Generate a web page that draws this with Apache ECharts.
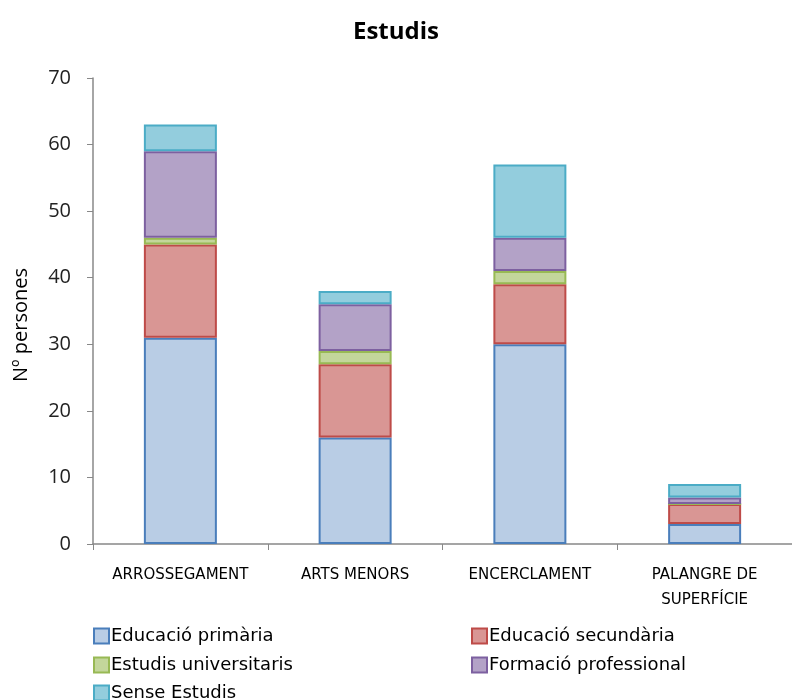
<!DOCTYPE html>
<html>
<head>
<meta charset="utf-8">
<script src="https://cdn.jsdelivr.net/npm/echarts@6/dist/echarts.min.js"></script>
<style>
    html, body { margin: 0; padding: 0; background: #fff; }
    #chart { width: 792px; height: 700px; }
</style>
</head>
<body>
<div id="chart"></div>
<script type="text/javascript">
    // dades llegides del gràfic
    var categories = ['ARROSSEGAMENT', 'ARTS MENORS', 'ENCERCLAMENT', 'PALANGRE DE\nSUPERFÍCIE'];
    var primaria = [31, 16, 30, 3];
    var secundaria = [14, 11, 9, 3];
    var universitaris = [1, 2, 2, 0];
    var professional = [13, 7, 5, 1];
    var senseEstudis = [4, 2, 11, 2];
    var yTicks = [0, 10, 20, 30, 40, 50, 60, 70];

    var font = '"Open Sans", "DejaVu Sans", sans-serif';
    var wide = '"DejaVu Sans", sans-serif';

    function serie(name, data, fill, border) {
        return {
            name: name,
            type: 'bar',
            stack: 'total',
            barWidth: 73,
            data: data,
            itemStyle: { color: fill, borderColor: border, borderWidth: 2 }
        };
    }

    // una llegenda per element, per col·locar-les en dues columnes
    function llegenda(name, left, top) {
        return {
            left: left, top: top,
            itemWidth: 15, itemHeight: 15, icon: 'rect',
            textStyle: { fontSize: 18, color: '#000', fontFamily: wide, padding: [0, 0, 0, -3] },
            data: [name]
        };
    }

    var myChart = echarts.init(document.getElementById('chart'));

    var option = {
        animation: false,
        title: {
            text: 'Estudis',
            left: 'center',
            top: 15,
            textStyle: { fontSize: 24, fontWeight: 'bold', color: '#000', fontFamily: font }
        },
        grid: { left: 93, top: 78, width: 708, height: 466 },
        legend: [
            llegenda('Educació primària', 88, 622),
            llegenda('Educació secundària', 466, 622),
            llegenda('Estudis universitaris', 88, 651),
            llegenda('Formació professional', 466, 651),
            llegenda('Sense Estudis', 88, 679)
        ],
        xAxis: {
            type: 'category',
            data: categories,
            axisLine: { lineStyle: { color: '#888', width: 1.5 } },
            axisTick: { show: true, length: 6, lineStyle: { color: '#888' } },
            axisLabel: { interval: 0, margin: 19, fontSize: 15, color: '#000', fontFamily: wide, lineHeight: 25 }
        },
        yAxis: {
            type: 'value',
            min: yTicks[0],
            max: yTicks[yTicks.length - 1],
            interval: 10,
            name: 'Nº persones',
            nameLocation: 'middle',
            nameGap: 62,
            nameTextStyle: { fontSize: 20, color: '#000', fontFamily: font, padding: [0, 28, 0, 0] },
            axisLine: { show: true, lineStyle: { color: '#888', width: 1.5 } },
            axisTick: { show: true, length: 6, lineStyle: { color: '#888' } },
            splitLine: { show: false },
            axisLabel: { margin: 22, fontSize: 20, color: '#222', fontFamily: font }
        },
        series: [
            serie('Educació primària', primaria, '#B9CDE5', '#4A7EBB'),
            serie('Educació secundària', secundaria, '#D99694', '#BE4B48'),
            serie('Estudis universitaris', universitaris, '#C3D69B', '#98B954'),
            serie('Formació professional', professional, '#B3A2C7', '#7D60A0'),
            serie('Sense Estudis', senseEstudis, '#93CDDD', '#4BACC6')
        ]
    };

    myChart.setOption(option);
</script>
</body>
</html>
